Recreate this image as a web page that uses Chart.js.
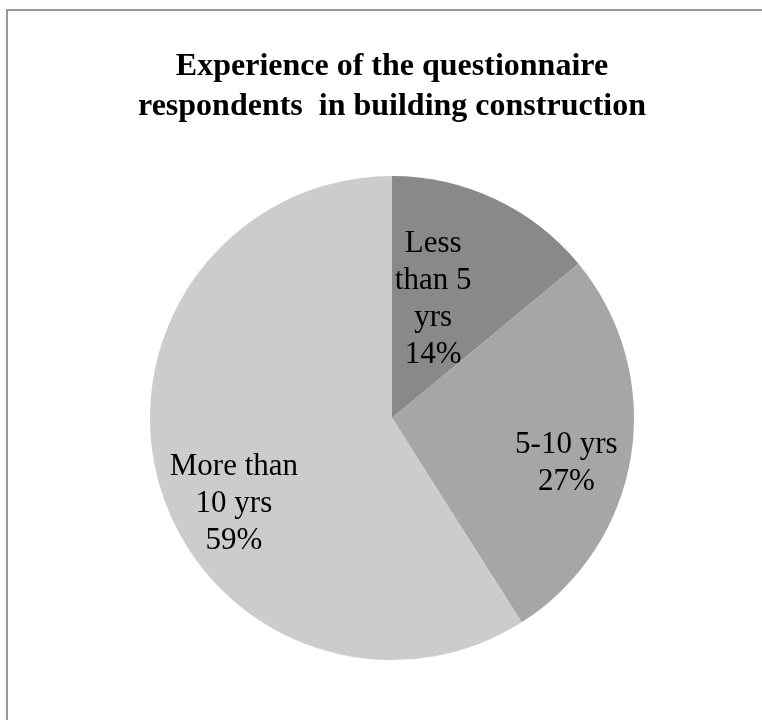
<!DOCTYPE html>
<html>
<head>
<meta charset="utf-8">
<title>Experience of the questionnaire respondents</title>
<script src="https://cdn.jsdelivr.net/npm/chart.js@4.4.1/dist/chart.umd.min.js"></script>
<style>
    html, body { margin: 0; padding: 0; background: #fff; }
    body { width: 762px; height: 720px; position: relative; overflow: hidden; }
    .frame {
        position: absolute; left: 6px; top: 9px;
        width: 800px; height: 760px;
        border: 2px solid #999;
        box-sizing: border-box;
    }
    #pie-chart { position: absolute; left: 0; top: 0; }
</style>
</head>
<body>
<div class="frame"></div>
<canvas id="pie-chart" width="762" height="720"></canvas>
<script>
"use strict";

// Data
var categories = [["Less", "than 5", "yrs"], ["5-10 yrs"], ["More than", "10 yrs"]];
var shares = [14, 27, 59];
var sliceColors = ["#898989", "#a6a6a6", "#cccccc"];

// where each label sits: angle shift (deg) from slice middle, fraction of radius
var labelPlacement = [
    { shift: -6, frac: 0.517 },
    { shift: 5.5, frac: 0.744 },
    { shift: -12.4, frac: 0.744 }
];

// Labels drawn inside the slices
var sliceLabels = {
    id: "sliceLabels",
    afterDatasetsDraw: function (chart) {
        var ctx = chart.ctx;
        var meta = chart.getDatasetMeta(0);
        var total = shares.reduce(function (a, b) { return a + b; }, 0);
        ctx.save();
        ctx.font = "31px 'Liberation Serif', 'Times New Roman', serif";
        ctx.fillStyle = "#000";
        ctx.textAlign = "center";
        ctx.textBaseline = "middle";
        meta.data.forEach(function (arc, i) {
            var p = arc.getProps(["x", "y", "startAngle", "endAngle", "outerRadius"], true);
            var a = (p.startAngle + p.endAngle) / 2 + labelPlacement[i].shift * Math.PI / 180;
            var r = p.outerRadius * labelPlacement[i].frac;
            var cx = p.x + Math.cos(a) * r;
            var cy = p.y + Math.sin(a) * r;
            var lines = categories[i].concat([Math.round(shares[i] / total * 100) + "%"]);
            var lh = 37;
            var y0 = cy - (lines.length - 1) * lh / 2;
            lines.forEach(function (t, k) {
                ctx.fillText(t, cx, y0 + k * lh);
            });
        });
        ctx.restore();
    }
};

var ctx1 = document.getElementById("pie-chart").getContext("2d");
var myChart1 = new Chart(ctx1, {
    type: "pie",
    data: {
        labels: categories.map(function (c) { return c.join(" "); }),
        datasets: [{
            data: shares,
            backgroundColor: sliceColors,
            borderWidth: 0
        }]
    },
    options: {
        responsive: false,
        animation: false,
        layout: { padding: { left: 22, right: 0, top: 0, bottom: 60 } },
        plugins: {
            legend: { display: false },
            tooltip: { enabled: false },
            title: {
                display: true,
                text: ["Experience of the questionnaire", "respondents  in building construction"],
                color: "#000",
                font: { family: "'Liberation Serif', 'Times New Roman', serif", size: 32, weight: "bold", lineHeight: 1.25 },
                padding: { top: 47, bottom: 49 }
            }
        }
    },
    plugins: [sliceLabels]
});
</script>
</body>
</html>
